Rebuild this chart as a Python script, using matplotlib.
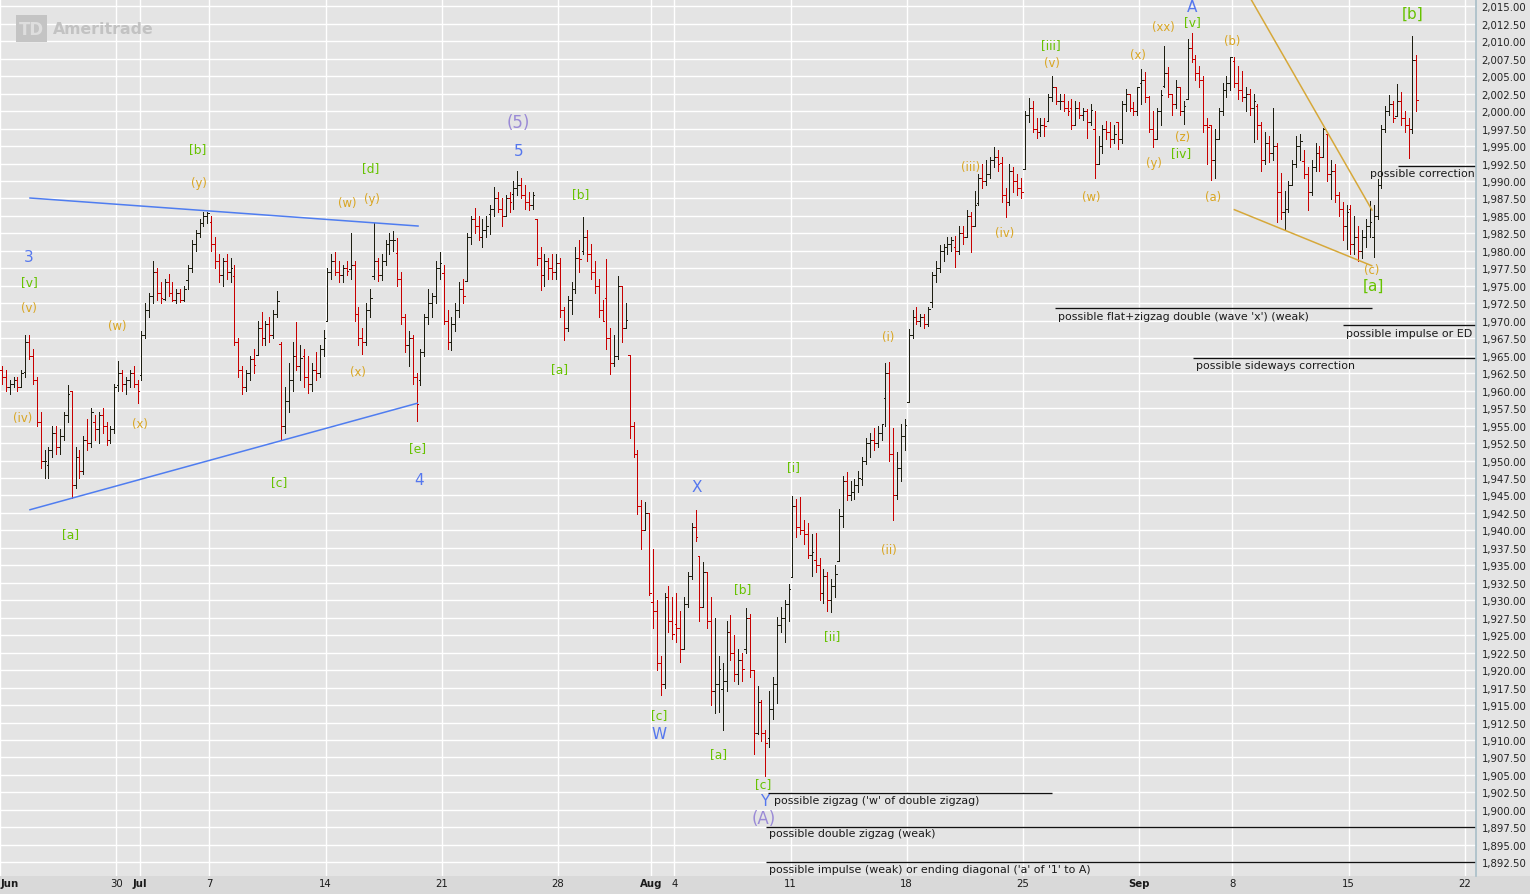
import numpy as np
import matplotlib
matplotlib.use("Agg")
import matplotlib.pyplot as plt
from matplotlib.collections import LineCollection
from matplotlib.lines import Line2D
from matplotlib.patches import Rectangle
import matplotlib.transforms as mtransforms

plt.rcParams['font.family'] = ['DejaVu Sans']

# ---------------------------------------------------------------- data
trading_days = [
    "06-23", "06-24", "06-25", "06-26", "06-27", "06-30",
    "07-01", "07-02", "07-03", "07-07", "07-08", "07-09", "07-10", "07-11",
    "07-14", "07-15", "07-16", "07-17", "07-18", "07-21", "07-22", "07-23",
    "07-24", "07-25", "07-28", "07-29", "07-30", "07-31",
    "08-01", "08-04", "08-05", "08-06", "08-07", "08-08", "08-11", "08-12",
    "08-13", "08-14", "08-15", "08-18", "08-19", "08-20", "08-21", "08-22",
    "08-25", "08-26", "08-27", "08-28", "08-29",
    "09-02", "09-03", "09-04", "09-05", "09-08", "09-09", "09-10", "09-11",
    "09-12", "09-15", "09-16", "09-17",
]
BARS_PER_DAY = 6

day_open = [
    1962.9, 1962.6, 1949.3, 1959.9, 1955.5, 1960.8, 1962.3, 1973.1, 1975.9,
    1984.2, 1976.4, 1965.1, 1966.7, 1965.0,
    1969.9, 1977.4, 1976.4, 1979.75, 1961.5,
    1976.9, 1975.65, 1985.3, 1988.1, 1984.6,
    1978.25, 1980.0, 1973.2, 1965.1, 1929.8,
    1926.6, 1936.3, 1917.3, 1923.0, 1910.35,
    1933.4, 1935.7, 1935.6, 1947.4, 1958.9,
    1958.4, 1972.7, 1980.5, 1986.8, 1992.6,
    1991.7, 1998.6, 2000.5, 1997.4, 1998.45,
    2004.07, 2003.6, 2001.7, 1998.0,
    2007.2, 2000.7, 1988.4, 1992.85, 1996.7,
    1986.04, 1981.93, 1999.3,
]

bar_high = [
    1963.5, 1963, 1961.5, 1962, 1962, 1963,
    1968, 1968, 1966, 1962, 1957, 1951.5,
    1952, 1955, 1955, 1954.5, 1957, 1960.8,
    1960, 1952, 1951.5, 1953.5, 1956, 1957.5,
    1956.5, 1957, 1957.5, 1955.5, 1955, 1961,
    1964.2, 1963, 1962, 1963, 1963.5, 1961.5,
    1968.5, 1972.5, 1974, 1978.6, 1977.5, 1975.5,
    1976, 1976.7, 1975.5, 1974.5, 1974.5, 1975,
    1978, 1981.5, 1983, 1984.5, 1985.6, 1985.6,
    1985, 1982, 1979.5, 1979, 1979.5, 1979,
    1978, 1967.5, 1963.5, 1963, 1965, 1966,
    1970, 1971.3, 1970, 1970.5, 1971.5, 1974.2,
    1967, 1960.5, 1964, 1967, 1969.8, 1966.5,
    1966, 1965, 1964, 1965.5, 1966.5, 1968.7,
    1977.5, 1979.5, 1979.9, 1978.5, 1978, 1978.5,
    1982.5, 1978.5, 1972, 1969, 1972.5, 1974.5,
    1984, 1979, 1979.5, 1981.5, 1982.5, 1982.8,
    1981.8, 1977, 1971, 1968.5, 1968, 1962.5,
    1966, 1971, 1974.5, 1974, 1978.5, 1979.9,
    1978, 1971.5, 1970.5, 1972.5, 1975.5, 1976,
    1982.5, 1985, 1986.2, 1985, 1984.5, 1985,
    1986.5, 1989.2, 1988.5, 1987.5, 1988, 1988.5,
    1990, 1991.4, 1990.5, 1989.5, 1988.5, 1988.5,
    1984.6, 1980.5, 1979.5, 1979, 1979.5, 1979.5,
    1979, 1972, 1973.5, 1975.5, 1980.5, 1981.5,
    1984.85, 1983, 1981, 1978.5, 1976, 1973,
    1978.9, 1969, 1968, 1976.4, 1975, 1972.5,
    1965.1, 1955.5, 1951.5, 1944.3, 1944.1, 1942.5,
    1937.35, 1930, 1922, 1931, 1932, 1930.5,
    1931, 1928.5, 1930.5, 1934, 1941, 1942.9,
    1936.3, 1935.5, 1933, 1930.5, 1927.5, 1922,
    1921, 1927, 1927.9, 1925, 1923, 1922.5,
    1928.9, 1928, 1920, 1917.7, 1915.7, 1911.5,
    1917, 1919, 1927.6, 1929, 1930, 1932.4,
    1944.9, 1944.5, 1944.8, 1941.5, 1941, 1939.5,
    1939.65, 1936, 1934.5, 1934, 1933, 1935,
    1943, 1947.8, 1948.4, 1947, 1947.3, 1948.5,
    1950.5, 1953.2, 1954, 1954.7, 1955, 1955.2,
    1964, 1964.1, 1954.7, 1951.2, 1955.2, 1956,
    1968.8, 1971.5, 1971.9, 1971, 1971, 1972,
    1977, 1978.5, 1980.8, 1981, 1982, 1982,
    1982.2, 1983.6, 1983.5, 1985.8, 1985.5, 1988.6,
    1991, 1992.5, 1993, 1993.5, 1994.8, 1994.5,
    1993.5, 1989, 1992.5, 1992, 1991, 1990.5,
    2000, 2001.95, 2001.5, 1999, 1999, 1999,
    2002.5, 2005, 2003.5, 2002.5, 2002.5, 2001.5,
    2001.7, 2001.5, 2001.3, 2000.5, 2000.3, 2001,
    2000, 1996.5, 1998, 1998.6, 1998.5, 1998,
    1998.5, 2001.5, 2003.2, 2002.5, 2001.3, 2003.4,
    2006.1, 2005.6, 2002.2, 2000, 2000.5, 2003,
    2009.3, 2006.3, 2002.5, 2004.4, 2003, 2001.5,
    2010.3, 2011.2, 2008, 2006.5, 2005, 1999,
    1998, 1997.5, 2000.5, 2004, 2005, 2007.7,
    2007.7, 2006.5, 2005.8, 2003.5, 2003.2, 2002.5,
    2001, 1998.5, 1997, 1996.5, 2000.5, 1995.5,
    1991.2, 1988.6, 1990, 1993, 1996.5, 1996.7,
    1994.5, 1992, 1993, 1995.5, 1995, 1997.65,
    1996.7, 1993, 1992.5, 1988.5, 1987, 1986.5,
    1986.5, 1985, 1983.5, 1983, 1984.5, 1987.2,
    1986.5, 1990.3, 1998, 2000.8, 2002.3, 2001.5,
    2003.9, 2002.7, 2000, 1999, 2010.7, 2008,
]

bar_low = [
    1961, 1960, 1959.5, 1960.5, 1960, 1960.5,
    1962, 1964.5, 1961, 1955, 1949, 1947.5,
    1947.5, 1950.5, 1951, 1951, 1953, 1955.5,
    1944.7, 1946, 1947.5, 1948, 1951.5, 1952,
    1953, 1952.5, 1954, 1952.2, 1952.5, 1954,
    1960, 1960, 1959.5, 1960.5, 1960.5, 1958.2,
    1961.5, 1967.5, 1970.5, 1972.5, 1973, 1972.5,
    1973, 1973.5, 1972.8, 1972.6, 1972.7, 1972.8,
    1974.5, 1977, 1980, 1982, 1983.5, 1984,
    1980, 1977.5, 1975.5, 1975, 1976, 1975.5,
    1966.5, 1962, 1959.5, 1960, 1961.5, 1962.5,
    1965.1, 1966.5, 1966.5, 1967, 1967.5, 1970.5,
    1952.9, 1954, 1957, 1960, 1963, 1961.5,
    1960.5, 1959.6, 1960, 1961.5, 1962, 1965,
    1969.9, 1976, 1976.5, 1975.5, 1975.5, 1976.5,
    1976, 1970, 1966.5, 1965.3, 1966.5, 1970.5,
    1976, 1975.7, 1975.8, 1978, 1979.5, 1980,
    1975, 1969.5, 1965.5, 1963.5, 1961, 1955.6,
    1960.8, 1965, 1969.5, 1970.5, 1972.5, 1976,
    1969.5, 1966, 1965.8, 1968.5, 1970.5, 1972.5,
    1975.65, 1981, 1982.5, 1981.5, 1980.5, 1982,
    1982.4, 1985, 1985.5, 1983.5, 1985, 1985.5,
    1986, 1988, 1987.5, 1986, 1985.8, 1986,
    1978, 1974.4, 1975, 1976, 1976, 1976,
    1970.5, 1967.3, 1968.5, 1971, 1974, 1977,
    1979.5, 1978.5, 1976, 1974, 1970.5, 1969.95,
    1966, 1962.4, 1963.5, 1964.5, 1967, 1969,
    1953.2, 1950.5, 1942.4, 1937.4, 1940, 1930.7,
    1926, 1920, 1916.4, 1917.5, 1925.5, 1924.5,
    1924, 1921.2, 1923, 1929, 1933, 1938.5,
    1927, 1929, 1926, 1915, 1913.8, 1914,
    1911.5, 1917, 1921.5, 1918.5, 1918, 1918.5,
    1922.5, 1919, 1908, 1910.8, 1909.8, 1904.8,
    1909, 1913, 1915.3, 1925.5, 1924, 1927,
    1933.4, 1939, 1939.5, 1938, 1936, 1933.5,
    1934, 1930, 1929.6, 1928.5, 1928.3, 1930.5,
    1935.6, 1940.5, 1944.3, 1944.3, 1944.5, 1945.5,
    1946.5, 1949.5, 1950.5, 1951.5, 1952, 1953,
    1955, 1950, 1941.5, 1944.5, 1947, 1951.5,
    1958.4, 1967.5, 1969.5, 1969.3, 1969, 1969.3,
    1972, 1975.5, 1977, 1978.5, 1979.5, 1980,
    1977.7, 1979.5, 1981, 1982, 1979.8, 1983.5,
    1986.5, 1989, 1989.5, 1990.5, 1992, 1991.5,
    1987, 1984.8, 1986.5, 1988.5, 1988, 1987.5,
    1991.7, 1998.5, 1997, 1996.2, 1996.5, 1996.5,
    1998.6, 2001.5, 2001, 2000.3, 2000, 1999.5,
    1997.5, 1998, 1999, 1998.8, 1996.2, 1998,
    1990.5, 1992.5, 1994, 1996, 1994.8, 1995.5,
    1994.65, 1995.5, 2000, 2000, 1999.4, 1999.5,
    2001, 2001.3, 1997, 1994.85, 1996, 1998,
    2003.5, 2002, 1999.5, 2000.5, 1999.4, 1998.1,
    2001.7, 2007, 2004.5, 2003.5, 1997, 1992.5,
    1990.1, 1990.5, 1996, 1999.5, 2002, 2003,
    2003.5, 2001.7, 2001.5, 2000, 1999.5, 1995.6,
    1996, 1991.5, 1992.5, 1992.7, 1993, 1984.2,
    1984.6, 1983, 1985.5, 1989.5, 1992, 1993,
    1990.5, 1985.9, 1988, 1991.5, 1991.5, 1993.5,
    1990, 1987.4, 1987, 1985, 1981.5, 1980.3,
    1979.5, 1979.5, 1978.5, 1979, 1980.5, 1982,
    1979.1, 1984.5, 1989, 1997, 1999.5, 1998.5,
    1999.3, 1998, 1997, 1993.3, 1996.9, 2000,
]

bar_close = [
    1962, 1960.5, 1961, 1961.5, 1960.5, 1962.5,
    1967, 1965, 1961.5, 1955.5, 1950, 1950,
    1951.5, 1954, 1952, 1953.5, 1956.5, 1959.5,
    1946.5, 1950.5, 1948.5, 1953, 1952.5, 1957,
    1954.5, 1956.5, 1955, 1953, 1954.5, 1960.5,
    1962.5, 1961, 1961.5, 1962.5, 1961, 1960,
    1968, 1971.5, 1973.5, 1977, 1974, 1973.3,
    1975.5, 1974, 1973, 1974, 1973, 1974.6,
    1977.5, 1981, 1982.5, 1984, 1985, 1985.4,
    1981, 1978.5, 1976.5, 1978.5, 1977, 1977.6,
    1967, 1963, 1960.5, 1962.5, 1964.5, 1963.7,
    1969, 1967.5, 1969.5, 1968, 1971, 1972.8,
    1955, 1958.5, 1961.5, 1965, 1963.5, 1964.7,
    1962, 1961, 1963, 1962.5, 1966, 1967.6,
    1977, 1978.5, 1977, 1976.5, 1977.5, 1977.1,
    1978, 1971, 1967.5, 1967, 1971.5, 1973.3,
    1978.5, 1976.5, 1978.5, 1981, 1981.5, 1981.6,
    1976, 1970.5, 1966.5, 1967.5, 1962, 1958.1,
    1965.5, 1970.5, 1972.5, 1973.5, 1977.5, 1978.2,
    1970, 1967, 1969.5, 1971.5, 1974.5, 1973.6,
    1982, 1984.5, 1983.5, 1982, 1983, 1983.5,
    1986, 1987.5, 1986, 1985, 1987.5, 1987,
    1989, 1989.5, 1988, 1987, 1986.5, 1988,
    1979, 1976.5, 1978.5, 1977.5, 1977, 1978.3,
    1971.5, 1969, 1973, 1974.5, 1979, 1978.9,
    1982, 1979.5, 1977, 1975, 1971.5, 1970,
    1967.5, 1964, 1965, 1975, 1969, 1970.1,
    1955, 1951, 1943.5, 1940, 1942.5, 1931,
    1928.5, 1921, 1918, 1930.5, 1927, 1925.2,
    1926, 1923, 1929.5, 1933.5, 1940.5, 1939,
    1929, 1934, 1927, 1917, 1918, 1920.2,
    1918.5, 1925.5, 1922.5, 1919.5, 1921.5, 1920.2,
    1927.5, 1920, 1911, 1915.5, 1911, 1909.6,
    1914.5, 1918, 1926.5, 1927.5, 1929.5, 1931.6,
    1943.5, 1940.5, 1940, 1939.5, 1936.5, 1936.9,
    1935, 1931, 1933.5, 1930, 1932, 1933.75,
    1942, 1947, 1945, 1945.5, 1946.5, 1947.5,
    1950, 1952.5, 1953, 1952.5, 1954, 1955.2,
    1962.5, 1951, 1945, 1949, 1953.5, 1955.1,
    1968, 1970.5, 1970, 1970.5, 1969.5, 1971.7,
    1976.5, 1977.5, 1980, 1980.5, 1981, 1981.6,
    1980, 1982.5, 1982, 1985, 1983.5, 1986.5,
    1990.5, 1990, 1991, 1993, 1993.5, 1992.4,
    1988, 1987, 1991.5, 1990, 1989, 1988.4,
    1999.5, 2000.5, 1997.5, 1997, 1998, 1997.9,
    2002, 2003.5, 2001.5, 2001.5, 2000.5, 2000,
    1998, 2000.5, 1999.5, 2000, 1998.5, 2000.1,
    1992.5, 1995, 1997.5, 1997, 1996, 1996.7,
    1996, 2001, 2002.5, 2000.5, 2000, 2003.4,
    2004.5, 2002, 1997.5, 1996, 2000, 2002.3,
    2005.5, 2002.5, 2001, 2003.5, 2000, 2000.7,
    2009, 2007.5, 2005.5, 2004.5, 1998, 1997.7,
    1993, 1996, 2000, 2003, 2004, 2007.7,
    2004, 2003, 2002, 2002.5, 2000.5, 2001.5,
    1998, 1993, 1995.5, 1994, 1995, 1988.4,
    1985.5, 1986, 1989.5, 1992.5, 1995, 1995.7,
    1991, 1988.5, 1992, 1994, 1993.5, 1997.5,
    1991, 1991.5, 1988, 1986, 1983.5, 1985.5,
    1981, 1982, 1980, 1982, 1983.5, 1984.1,
    1985, 1989.5, 1997.5, 2000, 2001, 1999,
    2001.5, 1999, 1998, 1997.5, 2007.3, 2001.6,
]

# x-axis ticks (trading-day index) and their labels
x_tick_days = [0, 5, 6, 9, 14, 19, 24, 28, 29, 34, 39, 44, 49, 53, 58, 63]
x_tick_labels = ["Jun", "30", "Jul", "7", "14", "21", "28", "Aug", "4", "11",
                 "18", "25", "Sep", "8", "15", "22"]
month_names = ["Jun", "Jul", "Aug", "Sep"]
y_tick_values = [1892.5 + 2.5 * i for i in range(50)]

# trend lines: (day, price) endpoints
triangle_upper = [(1.29, 1987.57), (17.98, 1983.56)]
triangle_lower = [(1.29, 1942.96), (17.94, 1958.19)]
wedge_upper = [(53.33, 2018.77), (59.01, 1985.85)]
wedge_lower = [(53.09, 1985.90), (59.00, 1977.88)]

# scenario levels: (price, start day, end day or None=right edge)
level_prices = [1902.42, 1897.56, 1892.50, 1971.77, 1969.40, 1964.63, 1992.15]
level_starts = [33.03, 32.95, 32.95, 45.38, 57.76, 51.31, 60.13]
level_ends = [45.25, None, None, 59.01, None, None, None]
level_texts = [
    "possible zigzag ('w' of double zigzag)",
    "possible double zigzag (weak)",
    "possible impulse (weak) or ending diagonal ('a' of '1' to A)",
    "possible flat+zigzag double (wave 'x') (weak)",
    "possible impulse or ED",
    "possible sideways correction",
    "possible correction",
]
level_text_px = [(774, 801, 'left'), (769, 834, 'left'), (769, 870, 'left'),
                 (1058, 317, 'left'), (1346, 334, 'left'), (1196, 366, 'left'),
                 (1475, 174, 'right')]

BLUE, LAV, GREEN, GOLD = '#5577ee', '#9a8ad6', '#66c200', '#d9a521'
GF, OF = 8.8, 8.4
wave_labels = [
    ("3", 29, 258, BLUE, 11), ("5", 519, 151, BLUE, 11), ("4", 419, 481, BLUE, 11),
    ("X", 697, 488, BLUE, 11), ("W", 659, 735, BLUE, 11), ("Y", 765, 802, BLUE, 11),
    ("A", 1192, 7, BLUE, 11),
    ("(5)", 518, 123, LAV, 12), ("(A)", 764, 819, LAV, 12),
    ("[v]", 29, 283, GREEN, GF), ("[b]", 198, 150, GREEN, GF), ("[d]", 371, 169, GREEN, GF),
    ("[a]", 71, 535, GREEN, GF), ("[c]", 279, 483, GREEN, GF), ("[e]", 418, 449, GREEN, GF),
    ("[b]", 581, 195, GREEN, GF), ("[a]", 560, 370, GREEN, GF), ("[c]", 659, 716, GREEN, GF),
    ("[a]", 719, 755, GREEN, GF), ("[b]", 743, 590, GREEN, GF), ("[c]", 763, 785, GREEN, GF),
    ("[i]", 794, 468, GREEN, GF), ("[ii]", 832, 637, GREEN, GF), ("[iii]", 1051, 46, GREEN, GF),
    ("[iv]", 1181, 154, GREEN, GF), ("[v]", 1192, 23, GREEN, GF),
    ("[b]", 1413, 14, GREEN, 11), ("[a]", 1373, 286, GREEN, 11),
    ("(v)", 29, 309, GOLD, OF), ("(iv)", 23, 419, GOLD, OF), ("(w)", 117, 327, GOLD, OF),
    ("(x)", 140, 425, GOLD, OF), ("(y)", 199, 184, GOLD, OF), ("(w)", 347, 204, GOLD, OF),
    ("(y)", 372, 199, GOLD, OF), ("(x)", 358, 373, GOLD, OF), ("(i)", 888, 338, GOLD, OF),
    ("(ii)", 889, 551, GOLD, OF), ("(iii)", 971, 168, GOLD, OF), ("(iv)", 1005, 233, GOLD, OF),
    ("(v)", 1052, 64, GOLD, OF), ("(w)", 1091, 197, GOLD, OF), ("(x)", 1138, 56, GOLD, OF),
    ("(xx)", 1163, 28, GOLD, OF), ("(y)", 1154, 164, GOLD, OF), ("(z)", 1183, 138, GOLD, OF),
    ("(a)", 1213, 198, GOLD, OF), ("(b)", 1232, 42, GOLD, OF), ("(c)", 1372, 271, GOLD, OF),
]

# ---------------------------------------------------------------- layout
W, H = 1530, 895
PW, PH = 1476, 877
BG = '#e4e4e4'

fig = plt.figure(figsize=(W / 100, H / 100), dpi=100, facecolor=BG)
ax = fig.add_axes([0, (H - PH) / H, PW / W, PH / H])
ax.set_facecolor(BG)
ax.set_xlim(0, PW / 23.25)
ax.set_ylim(1890.54, 2016.05)
for s in ax.spines.values():
    s.set_visible(False)
ax.set_axisbelow(True)

# bottom date band (behind the axes and its tick labels)
fig.patches.append(Rectangle((0, 0), 1, (H - PH) / H, transform=fig.transFigure,
                             facecolor='#d9d9d9', edgecolor='none', zorder=-5))

# grid / ticks
ax.set_yticks(y_tick_values)
ax.set_yticklabels([f"{v:,.2f}" for v in y_tick_values])
ax.yaxis.tick_right()
ax.tick_params(axis='y', length=0, pad=4, labelsize=7.3, labelcolor='#222222')
ax.set_xticks(x_tick_days)
ax.set_xticklabels(x_tick_labels)
ax.tick_params(axis='x', length=0, pad=1.8, labelsize=7.3, labelcolor='#1a1a1a')
for lab in ax.get_xticklabels():
    if lab.get_text() in month_names:
        lab.set_fontweight('bold')
    if lab.get_text() == "Jun":
        lab.set_horizontalalignment('left')
ax.grid(True, color='white', linewidth=1.0)

# right border of the plot area
fig.lines.append(Line2D([PW / W, PW / W], [(H - PH) / H, 1], transform=fig.transFigure,
                        color='#a8bec8', linewidth=1.2))

# ---------------------------------------------------------------- OHLC bars
n = len(bar_close)
bar_x = np.array([i // BARS_PER_DAY + (i % BARS_PER_DAY + 0.5) / BARS_PER_DAY for i in range(n)])
bar_open = [day_open[i // BARS_PER_DAY] if i % BARS_PER_DAY == 0 else bar_close[i - 1]
            for i in range(n)]
tick = 0.065
segs, cols = [], []
for x, o, h, l, c in zip(bar_x, bar_open, bar_high, bar_low, bar_close):
    col = '#c80000' if c < o else '#1e1e12'
    segs += [[(x, min(l, o, c)), (x, max(h, o, c))], [(x - tick, o), (x, o)], [(x, c), (x + tick, c)]]
    cols += [col, col, col]
ax.add_collection(LineCollection(segs, colors=cols, linewidths=0.72, antialiased=False, zorder=3))

# ---------------------------------------------------------------- trend lines
for pts, col in [(triangle_upper, '#4f7df0'), (triangle_lower, '#4f7df0'),
                 (wedge_upper, '#d6a83a'), (wedge_lower, '#d6a83a')]:
    ax.plot([p[0] for p in pts], [p[1] for p in pts], color=col, lw=1.1, zorder=4)

for price, x0, x1 in zip(level_prices, level_starts, level_ends):
    ax.plot([x0, x1 if x1 is not None else PW / 23.25], [price, price],
            color='#111111', lw=0.95, zorder=4, solid_capstyle='butt')

pix = mtransforms.Affine2D().scale(1 / PW, -1 / PH).translate(0, 1) + ax.transAxes
for txt, (px, py, ha) in zip(level_texts, level_text_px):
    ax.text(px, py, txt, transform=pix, ha=ha, va='center', fontsize=7.9,
            color='#1a1a1a', zorder=5)

for txt, px, py, col, fs in wave_labels:
    ax.text(px, py, txt, transform=pix, ha='center', va='center', fontsize=fs,
            color=col, zorder=5, clip_on=False)

# ---------------------------------------------------------------- watermark logo
figpix = mtransforms.Affine2D().scale(1 / W, -1 / H).translate(0, 1) + fig.transFigure
fig.patches.append(Rectangle((16, 43), 31, -27, transform=figpix, facecolor='#c4c4c4',
                             edgecolor='none', zorder=1))
fig.text(31.5, 30, "TD", transform=figpix, ha='center', va='center', fontsize=12,
         fontweight='bold', color='#dedede', zorder=2)
fig.text(53, 29, "Ameritrade", transform=figpix, ha='left', va='center', fontsize=11.3,
         fontweight='bold', color='#c2c2c2', zorder=2)

fig.savefig("out.png", dpi=100, facecolor=BG)
